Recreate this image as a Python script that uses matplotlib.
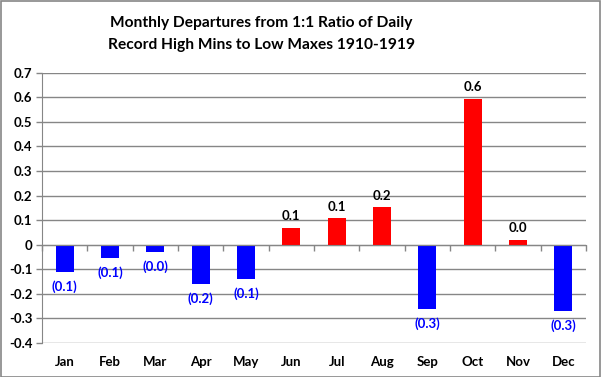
import matplotlib
matplotlib.use("Agg")
import matplotlib.pyplot as plt
from matplotlib.patches import Rectangle

months = ["Jan", "Feb", "Mar", "Apr", "May", "Jun", "Jul", "Aug", "Sep", "Oct", "Nov", "Dec"]
values = [-0.111, -0.054, -0.030, -0.160, -0.141, 0.070, 0.107, 0.152, -0.260, 0.595, 0.020, -0.269]
labels = ["(0.1)", "(0.1)", "(0.0)", "(0.2)", "(0.1)", "0.1", "0.1", "0.2", "(0.3)", "0.6", "0.0", "(0.3)"]
yticks = [-0.4, -0.3, -0.2, -0.1, 0, 0.1, 0.2, 0.3, 0.4, 0.5, 0.6, 0.7]
ytick_labels = ["-0.4", "-0.3", "-0.2", "-0.1", "0", "0.1", "0.2", "0.3", "0.4", "0.5", "0.6", "0.7"]
title = "Monthly Departures from 1:1 Ratio of Daily\nRecord High Mins to Low Maxes 1910-1919"

plt.rcParams["font.family"] = ["Lato", "DejaVu Sans"]
GRAY = "#868686"

fig = plt.figure(figsize=(6.01, 3.77), dpi=100)
ax = fig.add_axes([42/601, 34/377, (586-42)/601, (343-72.7)/377])

x = list(range(len(months)))
colors = ["#FF0000" if v >= 0 else "#0000FF" for v in values]
ax.bar(x, values, width=0.39, color=colors, zorder=3)

ax.set_xlim(-0.5, 11.5)
ax.set_ylim(-0.4, 0.7)
ax.set_yticks(yticks)
ax.set_yticklabels(ytick_labels, fontsize=9.5, fontweight="bold")
ax.yaxis.grid(True, color=GRAY, linewidth=1.0, zorder=0)
ax.tick_params(axis="y", direction="out", length=4, color=GRAY, width=1, pad=3)

for s in ["top", "right"]:
    ax.spines[s].set_visible(False)
ax.spines["left"].set_color(GRAY)
ax.spines["bottom"].set_position(("data", 0))
ax.spines["bottom"].set_color(GRAY)
ax.spines["bottom"].set_zorder(4)

ax.set_xticks(x)
ax.set_xticklabels(months, fontsize=9.5, fontweight="bold")
ax.tick_params(axis="x", which="major", length=0, pad=80)
ax.set_xticks([i + 0.5 for i in range(-1, 12)], minor=True)
ax.tick_params(axis="x", which="minor", direction="out", length=4, color=GRAY, width=1)

for xi, v, lab in zip(x, values, labels):
    if v >= 0:
        ax.annotate(lab, (xi, v), xytext=(0, 4), textcoords="offset points",
                    ha="center", va="bottom", fontsize=9.5, fontweight="bold", color="black")
    else:
        ax.annotate(lab, (xi, v), xytext=(0, -6), textcoords="offset points",
                    ha="center", va="top", fontsize=9.5, fontweight="bold", color="#0000FF")

fig.text(261/601, 1 - 34/377, title, ha="center", va="center", fontsize=11.2,
         fontweight="bold", linespacing=1.7)

fig.patches.append(Rectangle((0.001, 0.001), 0.997, 0.996, transform=fig.transFigure,
                             fill=False, edgecolor=GRAY, linewidth=1.2))

fig.savefig("out.png", dpi=100)
